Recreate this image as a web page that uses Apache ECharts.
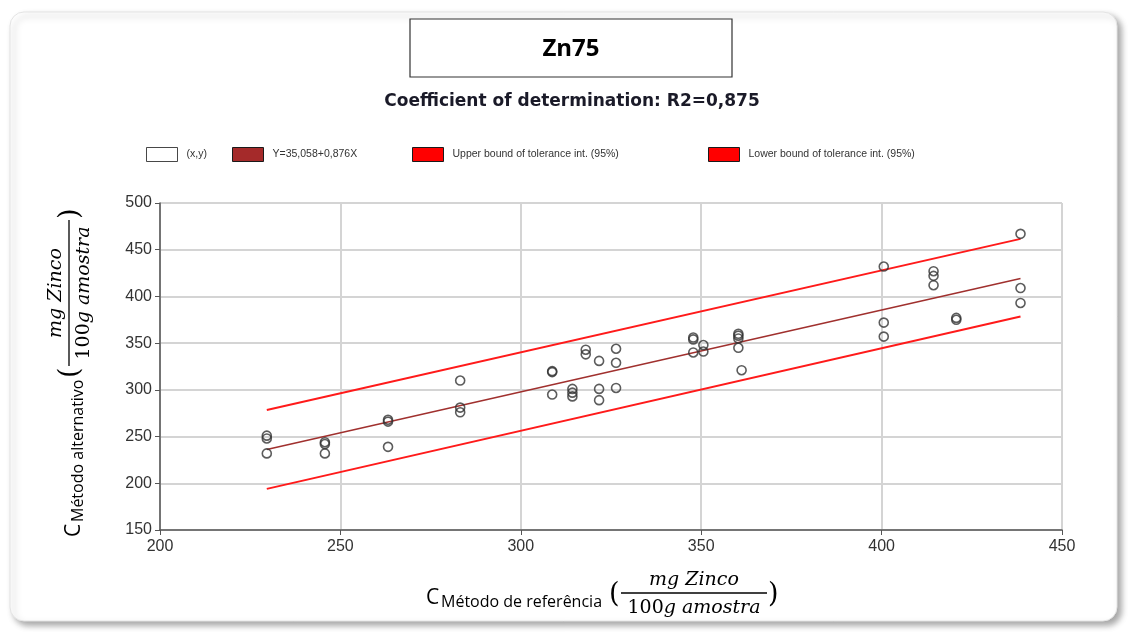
<!DOCTYPE html>
<html>
<head>
<meta charset="utf-8">
<script src="https://cdn.jsdelivr.net/npm/echarts@6/dist/echarts.min.js"></script>
<style>
  html, body { margin: 0; padding: 0; background: #fff; }
  #chart { width: 1128px; height: 632px; }
</style>
</head>
<body>
<div id="chart"></div>
<script>
// observed pairs (reference method, alternative method)
var refX = [229.6, 229.6, 229.6, 245.7, 245.7, 245.7, 263.2, 263.2, 263.2,
            283.2, 283.2, 283.2, 308.7, 308.7, 308.7, 314.3, 314.3, 314.3,
            318.0, 318.0, 321.7, 321.7, 321.7, 326.4, 326.4, 326.4,
            347.8, 347.8, 347.8, 350.6, 350.6, 360.3, 360.3, 360.3, 360.3,
            361.2, 400.6, 400.6, 400.6, 414.4, 414.4, 414.4, 420.7, 420.7,
            438.5, 438.5, 438.5];
var altY = [251, 248, 232, 244, 242, 232, 268, 266, 239,
            310, 281, 276, 320, 319, 295, 301, 297, 293,
            343, 338, 331, 301, 289, 344, 329, 302,
            356, 354, 340, 348, 341, 360, 358, 355, 345,
            321, 432, 372, 357, 427, 422, 412, 377, 375,
            467, 409, 393];

// fitted line and tolerance bounds (ends)
var lineX = [229.6, 438.5];
var fitY = [236.2, 419.2];
var upperY = [278.5, 461.6];
var lowerY = [194.0, 378.5];

var xTicks = { min: 200, max: 450, step: 50 };
var yTicks = { min: 150, max: 500, step: 50 };

var names = ['(x,y)', 'Y=35,058+0,876X',
             'Upper bound of tolerance int. (95%)', 'Lower bound of tolerance int. (95%)'];

function pairs(xs, ys) {
  return xs.map(function (x, i) { return [x, ys[i]]; });
}

// C_sub ( num / den ) block, drawn in local coords then placed / rotated
function unitTitle(x, y, rot, sub, subW) {
  var p = 16 + subW + 5;
  var l0 = p + 12, l1 = l0 + 146, mid = (l0 + l1) / 2;
  var serif = '"DejaVu Serif", serif';
  return {
    type: 'group', x: x, y: y, rotation: rot,
    children: [
      { type: 'text', style: { x: 0, y: 5, text: 'C', fontSize: 21, fontFamily: '"Open Sans"', fill: '#000', verticalAlign: 'middle' } },
      { type: 'text', style: { x: 15, y: 9, text: sub, fontSize: 16, fontFamily: '"Open Sans"', fill: '#000', verticalAlign: 'middle' } },
      { type: 'text', style: { x: p, y: 2, text: '(', fontSize: 27, fontFamily: serif, fill: '#000', verticalAlign: 'middle' } },
      { type: 'line', shape: { x1: l0, y1: 0, x2: l1, y2: 0 }, style: { stroke: '#000', lineWidth: 1.3 } },
      { type: 'text', style: { x: mid, y: -13, text: 'mg Zinco', fontSize: 19, fontStyle: 'italic', fontFamily: serif, fill: '#000', align: 'center', verticalAlign: 'middle' } },
      { type: 'text', style: { x: mid, y: 15, text: '{n|100}{i|g amostra}', align: 'center', verticalAlign: 'middle',
          rich: { n: { fontSize: 19, fontFamily: serif, fill: '#000' },
                  i: { fontSize: 19, fontFamily: serif, fontStyle: 'italic', fill: '#000' } } } },
      { type: 'text', style: { x: l1 + 1, y: 2, text: ')', fontSize: 27, fontFamily: serif, fill: '#000', verticalAlign: 'middle' } }
    ]
  };
}

function legendItem(left, name, fill) {
  return {
    left: left, top: 147, padding: 0,
    itemWidth: 31, itemHeight: 14,
    selectedMode: false,
    textStyle: { fontSize: 10.5, color: '#333', fontFamily: '"Liberation Sans"', padding: [0, 0, 0, 4] },
    data: [{ name: name, icon: 'rect', itemStyle: { color: fill, borderColor: '#1a1a1a', borderWidth: 1 } }]
  };
}

var chart = echarts.init(document.getElementById('chart'));
chart.setOption({
  animation: false,
  backgroundColor: '#fff',
  legend: [
    legendItem(146, names[0], '#ffffff'),
    legendItem(232, names[1], '#a52a2a'),
    legendItem(412, names[2], '#ff0000'),
    legendItem(708, names[3], '#ff0000')
  ],
  grid: { left: 160, right: 66, top: 203, bottom: 102 },
  xAxis: {
    type: 'value', min: xTicks.min, max: xTicks.max, interval: xTicks.step,
    axisLine: { lineStyle: { color: '#555', width: 1.5 } },
    axisTick: { show: true, length: 5, lineStyle: { color: '#555' } },
    axisLabel: { fontSize: 16, color: '#333', fontFamily: '"Liberation Sans"', margin: 9 },
    splitLine: { show: true, lineStyle: { color: '#d4d4d4', width: 2 } }
  },
  yAxis: {
    type: 'value', min: yTicks.min, max: yTicks.max, interval: yTicks.step,
    axisLine: { show: true, lineStyle: { color: '#555', width: 1.5 } },
    axisTick: { show: true, length: 5, lineStyle: { color: '#555' } },
    axisLabel: { fontSize: 16, color: '#333', fontFamily: '"Liberation Sans"', margin: 8 },
    splitLine: { show: true, lineStyle: { color: '#d4d4d4', width: 2 } }
  },
  graphic: [
    { type: 'rect', z: -10, shape: { x: 10, y: 12, width: 1107, height: 609, r: 14 },
      style: { fill: '#fff', stroke: '#e4e4e4', lineWidth: 1, shadowBlur: 6, shadowOffsetX: 4, shadowOffsetY: 4, shadowColor: 'rgba(0,0,0,0.35)' } },
    { type: 'rect', shape: { x: 410, y: 19, width: 322, height: 58 },
      style: { fill: '#fff', stroke: '#333', lineWidth: 1.2 } },
    { type: 'text', style: { x: 571, y: 49, text: 'Zn75', fontSize: 24, fontWeight: 'bold', fontFamily: '"Open Sans"', fill: '#000', align: 'center', verticalAlign: 'middle' } },
    { type: 'text', style: { x: 572, y: 102, text: 'Coefficient of determination: R2=0,875', fontSize: 17, fontWeight: 'bold', fontFamily: '"DejaVu Sans"', fill: '#1a1a28', align: 'center', verticalAlign: 'middle' } },
    unitTitle(426, 593, 0, 'Método de referência', 162),
    unitTitle(69, 537, Math.PI / 2, 'Método alternativo', 138)
  ],
  series: [
    {
      name: names[0], type: 'scatter', data: pairs(refX, altY), z: 5,
      symbol: 'circle', symbolSize: 9,
      itemStyle: { color: 'rgba(255,255,255,0)', borderColor: '#333', borderWidth: 1.6 }
    },
    {
      name: names[1], type: 'line', data: pairs(lineX, fitY), showSymbol: false, z: 3,
      itemStyle: { color: '#a52a2a' },
      lineStyle: { color: '#a0302e', width: 1.5 }
    },
    {
      name: names[2], type: 'line', data: pairs(lineX, upperY), showSymbol: false, z: 3,
      itemStyle: { color: '#ff0000' },
      lineStyle: { color: '#ff1a1a', width: 2 }
    },
    {
      name: names[3], type: 'line', data: pairs(lineX, lowerY), showSymbol: false, z: 3,
      itemStyle: { color: '#ff0000' },
      lineStyle: { color: '#ff1a1a', width: 2 }
    }
  ]
});
</script>
</body>
</html>
